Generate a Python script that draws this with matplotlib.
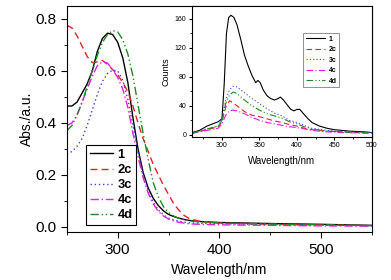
import matplotlib
matplotlib.use("Agg")
import matplotlib.pyplot as plt
from matplotlib.ticker import MultipleLocator

plt.rcParams['font.family'] = ['Liberation Sans', 'DejaVu Sans']

# ---- main absorption data ----
wl_abs = [250, 255, 260, 265, 270, 275, 280, 285, 290, 295, 300, 305, 310, 315, 320,
          325, 330, 335, 340, 345, 350, 355, 360, 365, 370, 380, 400, 450, 500, 550]
abs_1 = [0.465, 0.465, 0.48, 0.515, 0.55, 0.60, 0.675, 0.725, 0.745, 0.74, 0.71, 0.65, 0.555, 0.42, 0.30,
         0.21, 0.15, 0.11, 0.082, 0.062, 0.048, 0.040, 0.034, 0.029, 0.025, 0.021, 0.017, 0.013, 0.010, 0.006]
abs_2c = [0.775, 0.765, 0.735, 0.695, 0.655, 0.632, 0.635, 0.64, 0.625, 0.605, 0.585, 0.555, 0.52, 0.465, 0.40,
          0.34, 0.29, 0.24, 0.20, 0.16, 0.125, 0.09, 0.065, 0.045, 0.033, 0.022, 0.015, 0.010, 0.008, 0.005]
abs_3c = [0.28, 0.29, 0.31, 0.34, 0.39, 0.45, 0.51, 0.56, 0.59, 0.603, 0.60, 0.565, 0.49, 0.39, 0.29,
          0.20, 0.14, 0.095, 0.065, 0.046, 0.034, 0.027, 0.022, 0.019, 0.016, 0.014, 0.012, 0.009, 0.007, 0.004]
abs_4c = [0.39, 0.40, 0.43, 0.48, 0.53, 0.58, 0.62, 0.635, 0.63, 0.605, 0.575, 0.53, 0.46, 0.36, 0.27,
          0.19, 0.13, 0.088, 0.06, 0.042, 0.03, 0.023, 0.018, 0.015, 0.012, 0.010, 0.008, 0.006, 0.004, 0.003]
abs_4d = [0.37, 0.39, 0.43, 0.48, 0.54, 0.60, 0.66, 0.71, 0.74, 0.755, 0.75, 0.72, 0.665, 0.58, 0.47,
          0.36, 0.26, 0.17, 0.115, 0.078, 0.055, 0.042, 0.033, 0.028, 0.024, 0.019, 0.015, 0.011, 0.008, 0.005]

# ---- inset emission data ----
wl_em_1 = [260, 270, 280, 290, 295, 300, 303, 306, 309, 312, 316, 320, 325, 330, 335, 340, 345, 348,
           351, 355, 360, 365, 370, 375, 378, 382, 388, 392, 396, 400, 404, 408, 415, 420, 430, 440,
           450, 470, 490, 500]
em_1 = [3, 6, 12, 16, 18, 22, 70, 140, 162, 165, 162, 152, 132, 110, 95, 82, 72, 75,
        72, 62, 54, 50, 48, 50, 52, 48, 40, 35, 33, 35, 35, 30, 22, 17, 12, 9,
        7, 5, 4, 3]
wl_em = [260, 280, 295, 300, 305, 310, 315, 320, 330, 340, 350, 360, 370, 380, 390, 400, 410, 420,
         440, 460, 500]
em_2c = [2, 7, 11, 18, 38, 47, 44, 40, 32, 27, 25, 22, 19, 17, 14, 12, 9, 7, 5, 4, 2]
em_3c = [2, 8, 12, 22, 48, 62, 67, 66, 58, 50, 43, 36, 30, 26, 20, 17, 13, 9, 6, 4, 3]
em_4c = [2, 6, 9, 15, 27, 33, 34, 33, 29, 24, 20, 17, 15, 13, 11, 10, 8, 6, 4, 3, 2]
em_4d = [2, 8, 12, 20, 43, 55, 59, 57, 48, 40, 34, 29, 26, 23, 18, 15, 11, 8, 5, 4, 3]

labels = ['1', '2c', '3c', '4c', '4d']
colors = ['black', '#e8202a', '#4040e0', '#e020e0', '#208a20']
styles = ['-', (0, (5, 3)), (0, (1, 2)), (0, (6, 2, 1, 2)), (0, (6, 2, 1, 2, 1, 2))]

fig = plt.figure(figsize=(3.91, 2.80), dpi=100)
ax = fig.add_axes([0.171, 0.171, 0.780, 0.808])
abs_series = [abs_1, abs_2c, abs_3c, abs_4c, abs_4d]
for y, lab, c, ls in zip(abs_series, labels, colors, styles):
    ax.plot(wl_abs, y, color=c, linestyle=ls, linewidth=1.0, label=lab)
ax.set_xlim(250, 550)
ax.set_ylim(-0.02, 0.85)
ax.xaxis.set_major_locator(MultipleLocator(100))
ax.xaxis.set_minor_locator(MultipleLocator(50))
ax.yaxis.set_major_locator(MultipleLocator(0.2))
ax.yaxis.set_minor_locator(MultipleLocator(0.1))
ax.tick_params(which='both', direction='out', labelsize=11)
ax.tick_params(which='major', length=4)
ax.tick_params(which='minor', length=2.5)
ax.set_xlabel('Wavelength/nm', fontsize=10, labelpad=5)
ax.set_ylabel('Abs./a.u.', fontsize=10, labelpad=1)
leg = ax.legend(loc='lower left', bbox_to_anchor=(0.062, 0.03),
                prop={'weight': 'bold', 'size': 9.3}, handlelength=1.8, handletextpad=0.35,
                labelspacing=0.24, borderpad=0.3, borderaxespad=0.0,
                fancybox=False, edgecolor='black', framealpha=1)
leg.get_frame().set_linewidth(0.8)

# inset
ins = fig.add_axes([0.491, 0.511, 0.460, 0.468])
em_series = [em_1, em_2c, em_3c, em_4c, em_4d]
for i, (y, lab, c, ls) in enumerate(zip(em_series, labels, colors, styles)):
    x = wl_em_1 if i == 0 else wl_em
    ins.plot(x, y, color=c, linestyle=ls, linewidth=0.8, label=lab)
ins.set_xlim(260, 500)
ins.set_ylim(-3, 178)
ins.xaxis.set_major_locator(MultipleLocator(50))
ins.xaxis.set_minor_locator(MultipleLocator(25))
ins.yaxis.set_major_locator(MultipleLocator(40))
ins.yaxis.set_minor_locator(MultipleLocator(20))
ins.tick_params(which='both', direction='out', labelsize=5, pad=1.5)
ins.tick_params(which='major', length=2.5)
ins.tick_params(which='minor', length=1.5)
ins.set_xlabel('Wavelength/nm', fontsize=7, labelpad=5)
ins.set_ylabel('Counts', fontsize=6.5, labelpad=3)
leg2 = ins.legend(loc='upper left', bbox_to_anchor=(0.617, 0.794), prop={'weight': 'bold', 'size': 5},
                  handlelength=2.8, handletextpad=0.5, labelspacing=0.5, borderpad=0.4,
                  borderaxespad=0.0, fancybox=False, edgecolor='gray', framealpha=1)
leg2.get_frame().set_linewidth(0.6)

fig.savefig('out.png', dpi=100)
